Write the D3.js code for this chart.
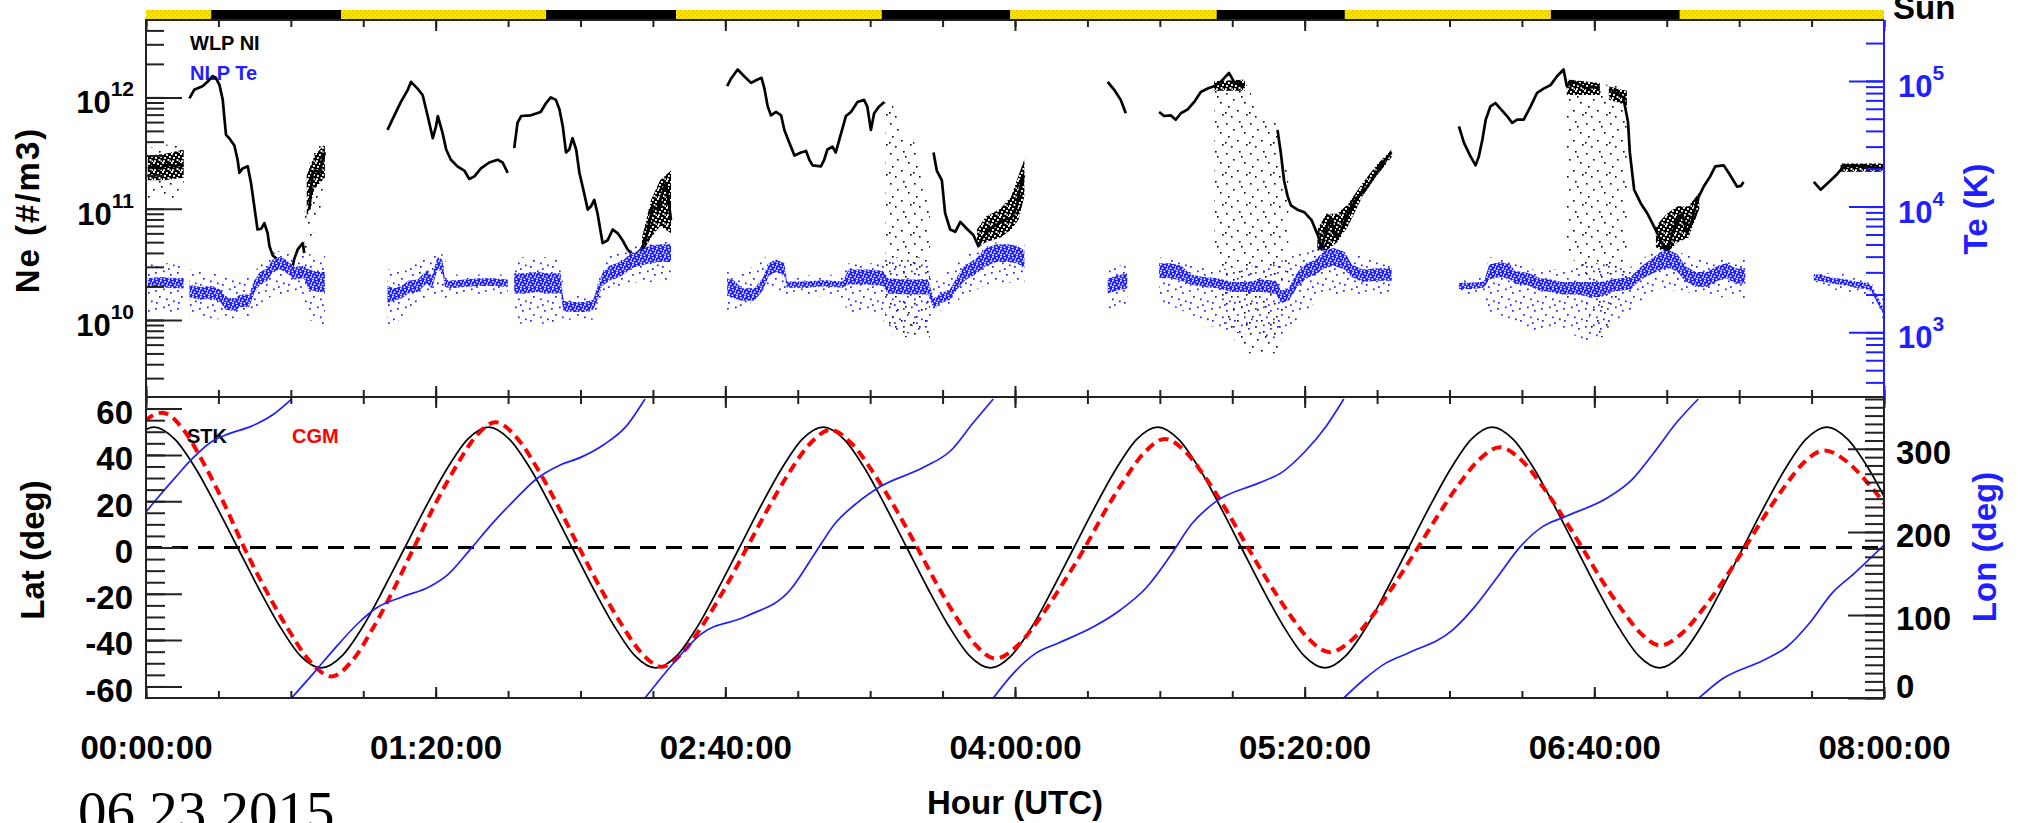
<!DOCTYPE html>
<html>
<head>
<meta charset="utf-8">
<script src="https://cdn.jsdelivr.net/npm/d3@7/dist/d3.min.js"></script>
<style>
  html, body { margin: 0; padding: 0; background: #fff; }
  svg { display: block; }
</style>
</head>
<body>
<svg id="chart" width="2018" height="823" font-family="Liberation Sans, Arial, Helvetica, sans-serif"></svg>
<script>
// ---------------------------------------------------------------------------
// Time axis: minutes after 00:00:00 UT
const hourTicks  = [0, 80, 160, 240, 320, 400, 480];
const hourLabels = ["00:00:00", "01:20:00", "02:40:00", "04:00:00", "05:20:00", "06:40:00", "08:00:00"];

// Sunlit (1) / eclipse (0) intervals along the orbit
const sunFrom = [0, 18, 53.9, 110.5, 146.4, 203.2, 238.7, 295.7, 331.1, 388, 423.6];
const sunTo   = [18, 53.9, 110.5, 146.4, 203.2, 238.7, 295.7, 331.1, 388, 423.6, 480];
const sunLit  = [1, 0, 1, 0, 1, 0, 1, 0, 1, 0, 1];

// WLP ion density trace [minute, #/m3]; null = no data
const neTrace = [
  [0.5,2.3e11],[2,2.4e11],[4,2.3e11],[6,2.5e11],[8,2.4e11],[9.5,2.5e11],[10.4,2.4e11],[11,null],
  [12,9.8e11],[13.3,1.17e12],[15.6,1.26e12],[17,1.38e12],[18.4,1.55e12],[19.3,1.5e12],[20.3,1.29e12],[21.2,9.5e11],
  [21.6,6.8e11],[22.1,4.6e11],[23,4.3e11],[24.4,3.7e11],[25.3,2.75e11],[25.8,2.1e11],[26.7,2.3e11],[28.1,2.4e11],
  [29,1.7e11],[29.9,1.05e11],[30.8,6.5e10],[31.8,6.6e10],[32.7,7.4e10],[33.6,6.0e10],[34.1,4.6e10],[35,3.8e10],
  [37.3,3.3e10],[39.1,3.0e10],[40.5,3.0e10],[40.9,3.5e10],[41.9,4.3e10],[43.3,4.9e10],[43.7,4.0e10],[44.2,null],
  [45.1,9.8e10],[46,2.1e11],[46.9,2.2e11],[47.9,2.1e11],[48.8,2.75e11],[49.4,3.2e11],[50,null],
  [66.7,5.1e11],[68.6,6.9e11],[70.4,9.1e11],[72.3,1.17e12],[73.2,1.38e12],[75,1.2e12],[76.4,1.05e12],[77.8,6.8e11],
  [79.2,4.3e11],[80.1,5.5e11],[80.6,6.8e11],[81.9,4.8e11],[82.9,3.4e11],[84.2,2.75e11],[86,2.4e11],[87.9,2.2e11],
  [89.3,1.85e11],[90.7,1.95e11],[92.5,2.3e11],[94.8,2.6e11],[97.1,2.75e11],[98.5,2.6e11],[99.9,2.1e11],[100.8,null],
  [101.7,3.5e11],[102.6,5.9e11],[103.6,6.8e11],[106.3,6.9e11],[109,7.4e11],[110.5,8.9e11],[111.8,1.0e12],[113.2,9.5e11],
  [114.2,7.8e11],[115.1,5.5e11],[116,3.2e11],[116.9,3.4e11],[117.8,4.3e11],[118.8,3.4e11],[119.7,2.1e11],[121,1.38e11],
  [122,9.8e10],[122.9,1.05e11],[123.8,1.2e11],[124.7,9.1e10],[126.1,4.9e10],[127.5,5.2e10],[128.9,6.5e10],[130.3,6.0e10],
  [131.6,5.2e10],[133,4.3e10],[134.8,3.7e10],[136.7,4.3e10],[138,5.2e10],[139,7.4e10],[139.9,1.05e11],[141.3,9.8e10],
  [142.6,1.38e11],[143.6,1.7e11],[144.5,1.05e11],[145,7.9e10],[146,null],
  [160.5,1.26e12],[161.6,1.48e12],[163.4,1.78e12],[165.2,1.55e12],[167.1,1.35e12],[168.9,1.45e12],[170,1.5e12],[170.8,1.2e12],
  [171.7,8.3e11],[172.6,6.9e11],[174,7.4e11],[175.4,6.9e11],[176.3,5.1e11],[177.7,3.9e11],[179.1,3.0e11],[180.9,3.2e11],
  [182.3,3.3e11],[183.2,2.75e11],[184.1,2.45e11],[186.4,2.4e11],[187.3,2.75e11],[188.2,3.4e11],[189.6,3.6e11],[190.5,3.2e11],
  [191.5,4.2e11],[193.3,6.8e11],[194.7,7.4e11],[196.5,9.1e11],[198.3,9.5e11],[199.2,8.3e11],[200.2,5.1e11],[201.1,7.2e11],
  [202.5,8.3e11],[203.9,9.1e11],[204.5,null],
  [217.5,3.2e11],[218.4,2.2e11],[219.8,1.8e11],[220.7,9.1e10],[222.1,6.5e10],[223.5,6.2e10],[224.9,7.6e10],[226.7,6.6e10],
  [228.5,5.8e10],[229.9,4.6e10],[231,5.5e10],[233,6.6e10],[235,7.2e10],[237,7.9e10],[239,8.3e10],[240.5,1.05e11],
  [241.5,1.6e11],[242.5,2.0e11],[243.5,null],
  [265.6,1.38e12],[267.4,1.17e12],[269.2,9.5e11],[270.6,7.2e11],[271.5,null],
  [279.8,7.4e11],[281.2,6.8e11],[283,6.9e11],[284.4,6.3e11],[285.8,7.2e11],[287.7,7.8e11],[289.5,9.1e11],[291.3,1.12e12],
  [293.2,1.2e12],[295,1.26e12],[296.8,1.38e12],[299.1,1.66e12],[300.5,1.38e12],[302.4,1.29e12],[303.5,1.3e12],[304.5,null],
  [312.5,5.1e11],[313.4,3.2e11],[314.3,1.8e11],[315.3,1.29e11],[316.2,1.07e11],[318,9.8e10],[319.9,9.3e10],[321.9,7.9e10],
  [323.8,5.6e10],[324.7,4.3e10],[326.1,6.9e10],[327.4,7.9e10],[328.4,5.6e10],[329.8,6.0e10],[331.2,7.9e10],[333,1.05e11],
  [334.8,1.29e11],[336.7,1.48e11],[338.5,1.8e11],[340.3,2.2e11],[342.2,2.75e11],[344,3.2e11],[345,null],
  [362.6,5.5e11],[364,3.9e11],[365.8,2.95e11],[367.2,2.45e11],[368.1,2.95e11],[369.1,4.2e11],[370,6.3e11],[371.3,8.3e11],
  [372.7,8.9e11],[374.1,7.9e11],[375.9,6.8e11],[377.3,5.9e11],[378.7,6.3e11],[380.5,6.3e11],[382.4,8.3e11],[384.2,1.1e12],
  [386,1.2e12],[387.9,1.29e12],[389.7,1.55e12],[391.5,1.78e12],[392.4,1.26e12],[394,1.4e12],[396,1.3e12],[398,1.2e12],
  [399.5,1.25e12],[401.5,1.2e12],[402.5,null],
  [404.2,1.2e12],[406,1.1e12],[408,1.0e12],[409.3,6.0e11],[409.8,3.2e11],[411,1.48e11],[412.8,1.12e11],[414.6,9.1e10],
  [416.5,6.9e10],[418.3,5.2e10],[420.1,4.0e10],[421.5,6.0e10],[422.9,7.9e10],[424.3,9.1e10],[425.6,6.0e10],[427,7.9e10],
  [428.4,1.2e11],[430.2,1.58e11],[432,1.95e11],[433.4,2.4e11],[435.7,2.45e11],[437.1,2.1e11],[439.4,1.58e11],[440.5,1.6e11],
  [441.2,1.74e11],[442,null],
  [460.6,1.74e11],[462.5,1.48e11],[464.8,1.74e11],[467.1,2.05e11],[468.9,2.4e11],[471.2,2.45e11],[474.9,2.4e11],[477,2.35e11],
  [479.5,2.3e11]
];

// Dense scatter about the density trace [minute, low, high]
const neNoise = [
  [0.5,1.8e11,3.0e11],[5,1.8e11,3.1e11],[10.4,1.9e11,3.4e11],[11,null,null],
  [44.4,8e10,2.0e11],[46.5,1.5e11,3.0e11],[49.4,1.9e11,3.8e11],[50,null,null],
  [137,4e10,5.5e10],[139.5,5.5e10,1.2e11],[142,7e10,1.8e11],[145,6e10,2.2e11],[146,null,null],
  [229.5,4.5e10,6.5e10],[232,5e10,8.5e10],[236,5.5e10,1.0e11],[239,6.5e10,1.3e11],[241,8e10,2.0e11],[242.6,1.3e11,2.8e11],[243.5,null,null],
  [295,1.15e12,1.4e12],[303.5,1.15e12,1.45e12],[304.5,null,null],
  [323.5,4.2e10,6.5e10],[326,4.2e10,9e10],[329,5e10,9e10],[332,7e10,1.1e11],[336,1.3e11,1.7e11],[340,2.0e11,2.5e11],[344,2.9e11,3.4e11],[345,null,null],
  [392.4,1.05e12,1.45e12],[397,1.05e12,1.4e12],[401.5,1.05e12,1.35e12],[402.5,null,null],
  [404,9.5e11,1.25e12],[409,8.5e11,1.15e12],[410,null,null],
  [417,4.5e10,7e10],[420,4e10,9e10],[423,5e10,1.05e11],[426,5.5e10,1.05e11],[429,1.0e11,1.4e11],[430,null,null],
  [468,2.15e11,2.55e11],[480,2.15e11,2.55e11]
];

// Sparse outlying density samples [minute, low, high]
const neSpray = [
  [0.5,1.2e11,3.5e11],[10.4,1.2e11,4.0e11],[11,null,null],
  [43.8,3.5e10,1.0e11],[45,5e10,2.5e11],[47,7e10,4.0e11],[49.4,1e11,4.5e11],[50,null,null],
  [204.2,1.0e10,9.5e11],[207,7e9,8e11],[210,7e9,5e11],[213,7e9,3.6e11],[216.5,7e9,1.2e11],[217.5,null,null],
  [295,5e10,1.3e12],[298.5,8e9,1.5e12],[304,5e9,1.3e12],[308,5e9,7e11],[313,5e9,6e11],[315.5,2e10,2e11],[316.5,null,null],
  [392.4,4e10,1.5e12],[396,3e10,1.5e12],[399.5,7e9,1.4e12],[403,7e9,1.3e12],[405,1.2e10,1.3e12],[409.3,2.5e10,1.2e12]
];

// NLP electron temperature, main band [minute, low K, high K]
const teCore = [
  [0.5,2240,2690],[4,2290,2750],[7.5,2240,2700],[10.4,2240,2690],[11,null,null],
  [12,1900,2400],[15,1820,2290],[18,1860,2340],[20.5,1740,2190],[22,1510,1900],[24.5,1480,1860],[26,1590,2000],[28.5,1590,2000],
  [29.9,2040,2570],[31.5,2400,3020],[33.5,2570,3240],[35,3020,3800],[37,3160,3980],[39,2950,3720],[41,2630,3310],[43.5,2690,3390],
  [45,2190,3160],[47.5,2090,3020],[49.4,2090,3020],[50,null,null],
  [66.7,1700,2340],[68.5,1780,2240],[70.5,1860,2340],[72.5,2040,2570],[75,2090,2630],[77.5,2450,3090],[79,2240,2820],[80.5,3160,3980],
  [81.8,3020,3800],[82.6,2290,2630],[84,2240,2570],[88,2290,2630],[92,2340,2690],[96,2340,2690],[99.9,2290,2630],[100.8,null,null],
  [101.7,2040,2950],[105,2040,2950],[108,2090,3020],[111,2040,2950],[114.5,2040,2950],[115.3,1480,1780],[118,1450,1740],[121,1450,1740],
  [123.5,1510,1820],[124.7,1820,2290],[126,2340,2950],[128,2570,3390],[130,2690,3550],[132,2880,3800],[134,3240,4270],[136.5,3390,4470],
  [139,3550,4900],[142,3630,5010],[145,3630,5010],[146,null,null],
  [160.5,1950,2690],[162.5,1860,2570],[164.5,1780,2240],[168,1780,2240],[170.3,2140,2690],[172,2820,3550],[174,3020,3800],[176.3,2820,3550],
  [177,2260,2540],[182,2260,2540],[187,2320,2600],[192.5,2260,2540],[194,2400,3160],[199,2400,3160],[203.5,2340,3090],[205,2040,2690],
  [210,2000,2630],[216,2000,2630],[217.5,1550,1860],[219.5,1700,2040],[222,1820,2190],[224,2190,2750],[226,2570,3390],[229,2880,3800],
  [232,3390,4680],[235,3630,5010],[238,3630,5010],[240.5,3550,4900],[242.6,3240,4470],[243.5,null,null],
  [265.6,2040,2690],[268,2140,2820],[271,2240,2950],[272,null,null],
  [279.8,2690,3550],[283,2690,3550],[286,2570,3390],[288.5,2400,2880],[292,2290,2750],[296,2240,2690],[300,2090,2510],[304,2090,2510],
  [308,2090,2630],[312,2040,2570],[313.5,1700,2140],[315.5,1780,2240],[318,2290,3020],[320.5,2690,3550],[323,2880,3800],[325.5,3240,4470],
  [328,3390,4680],[331,3160,4370],[333,2750,3470],[336,2510,3160],[340,2570,3240],[344,2570,3240],[345,null,null],
  [362.6,2210,2480],[366,2210,2480],[369.5,2260,2540],[371,2630,3470],[374,2750,3630],[376.8,2630,3470],[378,2450,3090],[382,2340,2950],
  [385,2140,2690],[388,2090,2630],[391,2000,2510],[395,2000,2510],[399,1910,2510],[402,1910,2510],[404.5,2090,2630],[407,2140,2690],
  [410,2190,2750],[412.8,2630,3310],[415.5,2880,3800],[418.5,3160,4370],[421,3240,4470],[423,3020,4170],[425,2570,3390],[428,2290,3020],
  [431,2290,3020],[434,2570,3390],[436.5,2690,3550],[439,2450,3240],[441.7,2450,3240],[443,null,null],
  [460.6,2600,2910],[463,2540,2850],[466,2430,2720],[469,2370,2660],[472,2260,2540],[475,2210,2480],[476.5,2110,2370],[478,1750,1970],
  [479.3,1490,1680],[480,1360,1530]
];

// Sparse outlying temperature samples [minute, low K, high K]
const teSpray = [
  [0.5,1410,3550],[10.4,1410,3550],[11,null,null],
  [12,1320,3160],[22,1260,2820],[29,1320,2820],[35,2000,4470],[43,2000,4170],[45,1260,4170],[49.4,1120,4170],[50,null,null],
  [66.7,1050,3160],[72,1410,3160],[78,2000,4170],[82,1780,4170],[84,2000,2880],[99.9,2000,2880],[100.8,null,null],
  [101.7,1170,3980],[114.5,1170,3980],[115.5,1260,2000],[124,1260,2000],[126,2000,3800],[136,2510,5010],[145,2510,5620],[146,null,null],
  [160.5,1410,3160],[164,1480,2820],[172,2240,4170],[177,2000,2820],[192,1900,2880],[194,1410,3550],[203,1410,3550],[205,955,3980],
  [216,1000,3980],[218,1410,2510],[224,1780,3550],[232,2400,5250],[242.6,2510,5010],[243.5,null,null],
  [265.6,1510,3160],[271,1580,3550],[272,null,null],
  [279.8,1780,3980],[288,1410,3550],[296,1050,3160],[312,870,3550],[316,1120,3980],[325,2000,5010],[333,2000,4170],[344,2000,3550],[345,null,null],
  [362.6,2000,2630],[369.5,2000,2820],[371,1410,3980],[377,1260,3980],[383,1000,3160],[390,1120,3160],[398,830,3550],[403,1000,3550],
  [409,1410,3160],[418,2240,4790],[430,2000,3800],[441.7,1780,3800],[443,null,null],
  [460.6,2400,3020],[475,1900,2820],[480,1260,1780]
];

// Geographic (STK) latitude, degrees
const stkMin = [-3.6,2.2,8.0,13.8,19.5,25.3,31.1,36.9,42.6,48.4,54.2,60.0,65.7,71.5,77.3,83.1,
  88.8,94.6,100.4,106.2,111.9,117.7,123.5,129.3,135.0,140.8,146.6,152.4,158.1,163.9,169.7,175.5,
  181.2,187.0,192.8,198.6,204.3,210.1,215.9,221.7,227.4,233.2,239.0,244.8,250.5,256.3,262.1,267.9,
  273.6,279.4,285.2,291.0,296.7,302.5,308.3,314.1,319.8,325.6,331.4,337.2,342.9,348.7,354.5,360.3,
  366.0,371.8,377.6,383.4,389.1,394.9,400.7,406.5,412.2,418.0,423.8,429.6,435.3,441.1,446.9,452.7,
  458.4,464.2,470.0,475.8,481.5];
const stkLat = [46.7,52,46.7,33.9,17.6,0,-17.6,-33.9,-46.7,-52,-46.7,-33.9,-17.6,0,17.6,33.9,
  46.7,52,46.7,33.9,17.6,0,-17.6,-33.9,-46.7,-52,-46.7,-33.9,-17.6,0,17.6,33.9,
  46.7,52,46.7,33.9,17.6,0,-17.6,-33.9,-46.7,-52,-46.7,-33.9,-17.6,0,17.6,33.9,
  46.7,52,46.7,33.9,17.6,0,-17.6,-33.9,-46.7,-52,-46.7,-33.9,-17.6,0,17.6,33.9,
  46.7,52,46.7,33.9,17.6,0,-17.6,-33.9,-46.7,-52,-46.7,-33.9,-17.6,0,17.6,33.9,
  46.7,52,46.7,33.9,17.6];

// Corrected geomagnetic (CGM) latitude, degrees
const cgmMin = [-6.9,-1.2,4.5,10.2,15.8,21.5,27.1,33.1,39.2,45.2,51.2,56.9,62.6,68.3,74,79.6,85.3,90.9,96.5,
  102.3,108.1,113.8,119.6,125.3,131,136.7,142.4,148.3,154.2,160.1,166,171.8,177.5,183.3,189,195,201,207,213,
  218.4,223.8,229.2,234.6,240.8,247,253.1,259.3,264.8,270.3,275.9,281.4,287.1,292.9,298.6,304.3,310,315.7,
  321.3,327,333.1,339.2,345.2,351.3,357,362.6,368.3,373.9,379.6,385.3,390.9,396.6,402,407.5,412.9,418.3,
  424.1,430,435.8,441.6,447.1,452.6,458,463.5,469.9,476.3,482.6];
const cgmLat = [36.7,53,58.2,51.2,36.7,19.2,0,-18.4,-35.1,-49.0,-55.7,-49.0,-35.1,-18.4,0,17.9,34.1,47.6,54.1,
  47.6,34.1,17.9,0,-17.0,-32.4,-45.3,-51.5,-45.3,-32.4,-17.0,0,16.8,32.0,44.7,50.8,44.7,32.0,16.8,0,
  -15.8,-30.2,-42.2,-48,-42.2,-30.2,-15.8,0,15.5,29.5,41.3,46.9,41.3,29.5,15.5,0,-14.9,-28.5,
  -39.8,-45.2,-39.8,-28.5,-14.9,0,14.3,27.3,38.1,43.3,38.1,27.3,14.3,0,-14.0,-26.6,-37.2,-42.3,
  -37.2,-26.6,-14.0,0,13.8,26.4,36.9,41.9,36.9,26.4,13.8];

// Geographic longitude, degrees (null = wrap from 360 to 0)
const lonMin = [0,4,8,12.3,17.9,22.8,29,35,40.2,40.2,
  40.2,46.3,51.8,58.6,63.5,70.9,78.3,83.2,89.4,95.6,101.7,107.9,114.1,120.2,126.4,132.6,137.8,137.8,
  137.8,144.9,153.3,165.6,177.9,185.3,190.3,196.4,202.6,214.9,222.3,228.4,234,234,
  234,239.6,245.8,251.9,261.8,269.1,276.5,282.7,288.9,295,307.4,313.5,319.7,325.9,330.8,330.8,
  330.8,336.3,342.4,348.5,360.9,367,373.3,379.5,385.6,391.7,404,410.2,416.4,422.6,428.7,428.8,
  428.9,435,447,453.3,459.4,465.6,471.8,480];
const lonDeg = [224,245,265,286,308,318,327,341,360,null,
  0,30,58,90,108,122,134,148,178,210,238,264,280,290,305,327,360,null,
  0,38,77,98,130,178,210,235,254,278,298,331,360,null,
  0,30,54,66,86,106,134,170,210,235,259,271,295,327,360,null,
  0,22,42,54,82,110,146,182,206,218,242,262,295,331,360,null,
  0,22,46,62,90,126,150,184];

// ---------------------------------------------------------------------------
const W = 2018, H = 823;
const X0 = 146, X1 = 1884, Y0 = 20, YM = 397, Y1 = 698;
const BLUE = "#1f1fff", RED = "#ff0000";
const SANS = "Liberation Sans, Arial, Helvetica, sans-serif";

const x    = d3.scaleLinear().domain([0, 480]).range([X0, X1]);
const yNe  = d3.scaleLog().domain([2.03e9, 4.96e12]).range([YM, Y0]);
const yTe  = d3.scaleLog().domain([306, 3.05e5]).range([YM, Y0]);
const yLat = d3.scaleLinear().domain([-65, 65]).range([Y1, YM]);
const yLon = d3.scaleLinear().domain([0, 362.4]).range([Y1, YM]);

const svg = d3.select("#chart");
svg.append("rect").attr("width", W).attr("height", H).attr("fill", "#fff");
const defs = svg.append("defs");

defs.append("clipPath").attr("id", "clipTop").append("rect")
  .attr("x", X0).attr("y", Y0).attr("width", X1 - X0).attr("height", YM - Y0);
defs.append("clipPath").attr("id", "clipBot").append("rect")
  .attr("x", X0).attr("y", YM).attr("width", X1 - X0).attr("height", Y1 - YM);

// small tiled textures that give the scatter bands their speckled look
function speckle(id, w, h, bg, fg, cells, s) {
  const p = defs.append("pattern").attr("id", id)
    .attr("patternUnits", "userSpaceOnUse").attr("width", w).attr("height", h);
  if (bg) p.append("rect").attr("width", w).attr("height", h).attr("fill", bg);
  p.selectAll("rect.c").data(cells).join("rect").attr("class", "c")
    .attr("x", d => d[0]).attr("y", d => d[1]).attr("width", s).attr("height", s).attr("fill", fg);
}
speckle("teCoreFill", 8, 8, BLUE, "#fff", [[0,0],[4.2,1],[1.8,3.4],[6,4.4],[0.4,5.8],[3.6,6.4],[7,2.2]], 1.6);
speckle("teSprayFill", 22, 18, null, BLUE,
  [[1,2],[9,0.5],[16,4],[5,8],[12,10.5],[19,12.5],[2,14],[14,16.2]], 1.7);
speckle("neNoiseFill", 9, 9, "#000", "#fff",
  [[0,0],[4,1],[7,3],[2,4],[5.5,6],[1,7.2],[7.5,7.5]], 1.9);
speckle("neSprayFill", 24, 30, null, "#000",
  [[2,3],[15,1],[9,9],[20,12],[4,16],[13,20],[22,24],[7,26],[17,6],[1,22]], 1.6);

const hatch = defs.append("pattern").attr("id", "sunHatch")
  .attr("patternUnits", "userSpaceOnUse").attr("width", 4).attr("height", 4);
hatch.append("rect").attr("width", 4).attr("height", 4).attr("fill", "#ffe400");
hatch.append("path").attr("d", "M0,4 L4,0 M-1,1 L1,-1 M3,5 L5,3")
  .attr("stroke", "#cfae00").attr("stroke-width", 0.7);

// ---- sunlight bar ---------------------------------------------------------
svg.append("g").selectAll("rect").data(d3.range(sunFrom.length)).join("rect")
  .attr("x", i => x(sunFrom[i])).attr("width", i => x(sunTo[i]) - x(sunFrom[i]))
  .attr("y", 10).attr("height", 10)
  .attr("fill", i => sunLit[i] ? "url(#sunHatch)" : "#000");
svg.append("text").attr("x", 1893).attr("y", 19)
  .attr("font-size", 33).attr("font-weight", "bold").attr("fill", "#000").text("Sun");

// ---- legends --------------------------------------------------------------
function label(txt, px, py, color, size) {
  svg.append("text").attr("x", px).attr("y", py).attr("fill", color)
    .attr("font-size", size).attr("font-weight", "bold").text(txt);
}
label("WLP NI", 190, 50, "#000", 20);
label("NLP Te", 190, 80, BLUE, 20);
label("STK", 187, 443, "#000", 20);
label("CGM", 292, 443, RED, 20);

// ---- top panel: density and temperature ------------------------------------
const gTop = svg.append("g").attr("clip-path", "url(#clipTop)");

const bandNe = d3.area().defined(d => d[1] != null)
  .x(d => x(d[0])).y0(d => yNe(d[1])).y1(d => yNe(d[2]));
const bandTe = d3.area().defined(d => d[1] != null)
  .x(d => x(d[0])).y0(d => yTe(d[1])).y1(d => yTe(d[2]));
const lineNe = d3.line().defined(d => d[1] != null)
  .x(d => x(d[0])).y(d => yNe(d[1]));

gTop.append("path").datum(neSpray).attr("d", bandNe).attr("fill", "url(#neSprayFill)");
gTop.append("path").datum(neNoise).attr("d", bandNe).attr("fill", "url(#neNoiseFill)");
gTop.append("path").datum(neTrace).attr("d", lineNe)
  .attr("fill", "none").attr("stroke", "#000").attr("stroke-width", 2.7).attr("stroke-linejoin", "round");
gTop.append("path").datum(teSpray).attr("d", bandTe).attr("fill", "url(#teSprayFill)");
gTop.append("path").datum(teCore).attr("d", bandTe).attr("fill", "url(#teCoreFill)");

// ---- bottom panel: orbit -------------------------------------------------
const gBot = svg.append("g").attr("clip-path", "url(#clipBot)");
gBot.append("line").attr("x1", X0).attr("x2", X1).attr("y1", yLat(0)).attr("y2", yLat(0))
  .attr("stroke", "#000").attr("stroke-width", 3).attr("stroke-dasharray", "16 10");

const latLine = d3.line().curve(d3.curveMonotoneX);
gBot.append("path")
  .attr("d", latLine(stkMin.map((t, i) => [x(t), yLat(stkLat[i])])))
  .attr("fill", "none").attr("stroke", "#000").attr("stroke-width", 1.7);
gBot.append("path")
  .attr("d", latLine(cgmMin.map((t, i) => [x(t), yLat(cgmLat[i])])))
  .attr("fill", "none").attr("stroke", RED).attr("stroke-width", 4).attr("stroke-dasharray", "10 6");
const lonLine = d3.line().curve(d3.curveMonotoneX)
  .defined((d, i) => lonDeg[i] != null)
  .x((d, i) => x(lonMin[i])).y((d, i) => yLon(lonDeg[i]));
gBot.append("path").attr("d", lonLine(lonMin))
  .attr("fill", "none").attr("stroke", BLUE).attr("stroke-width", 1.7);

// ---- axes -------------------------------------------------------------------
function tickSet(axis, at, values, size, color) {
  const g = svg.append("g").attr("transform", at)
    .call(axis.tickValues(values).tickSize(size).tickFormat(""));
  g.select(".domain").remove();
  g.selectAll("line").attr("stroke", color).attr("stroke-width", 2);
  return g;
}
const minorMinutes = d3.range(0, 481, 20);
[[d3.axisTop, Y0], [d3.axisBottom, YM], [d3.axisTop, YM], [d3.axisBottom, Y1]].forEach(([fn, yy]) => {
  tickSet(fn(x), `translate(0,${yy})`, minorMinutes, -7, "#222");
  tickSet(fn(x), `translate(0,${yy})`, hourTicks, -11, "#222");
});

// hour labels under the lower panel
const gx = svg.append("g").attr("transform", `translate(0,${Y1})`)
  .call(d3.axisBottom(x).tickValues(hourTicks).tickSize(0).tickPadding(38)
    .tickFormat((d, i) => hourLabels[i]));
gx.select(".domain").remove();
gx.attr("font-family", SANS).attr("font-size", 33);
gx.selectAll("text").attr("font-weight", "bold").attr("fill", "#000");

// density (left, log)
tickSet(d3.axisLeft(yNe), `translate(${X0},0)`, yNe.ticks(), -18, "#222");
const neMajor = [1e10, 1e11, 1e12];
tickSet(d3.axisLeft(yNe), `translate(${X0},0)`, neMajor, -36, "#222");
// temperature (right, log)
tickSet(d3.axisRight(yTe), `translate(${X1},0)`, yTe.ticks().filter(v => yTe(v) > Y0 + 3), -18, BLUE);
const teMajor = [1e3, 1e4, 1e5];
tickSet(d3.axisRight(yTe), `translate(${X1},0)`, teMajor, -35, BLUE);

function powerLabels(scale, values, px, anchor, color) {
  values.forEach(v => {
    const t = svg.append("text").attr("x", px).attr("y", scale(v) + 16)
      .attr("text-anchor", anchor).attr("fill", color)
      .attr("font-size", 31).attr("font-weight", "bold");
    t.append("tspan").text("10");
    t.append("tspan").attr("dy", -17).attr("font-size", 21).text(Math.round(Math.log10(v)));
  });
}
powerLabels(yNe, neMajor, 134, "end", "#000");
powerLabels(yTe, teMajor, 1898, "start", BLUE);

// latitude (left)
tickSet(d3.axisLeft(yLat), `translate(${X0},0)`, d3.range(-60, 61, 5), -19, "#222");
const latMajor = [-60, -40, -20, 0, 20, 40, 60];
const gLat = svg.append("g").attr("transform", `translate(${X0},0)`)
  .call(d3.axisLeft(yLat).tickValues(latMajor).tickSize(-36).tickPadding(13).tickFormat(d => String(d)));
gLat.select(".domain").remove();
gLat.attr("font-family", SANS).attr("font-size", 33);
gLat.selectAll("line").attr("stroke", "#222").attr("stroke-width", 2);
gLat.selectAll("text").attr("font-weight", "bold").attr("dy", "0.45em").attr("fill", "#000");

// longitude (right)
tickSet(d3.axisRight(yLon), `translate(${X1},0)`, d3.range(0, 361, 10), -19, "#222");
const lonMajor = [0, 100, 200, 300];
const gLon = svg.append("g").attr("transform", `translate(${X1},0)`)
  .call(d3.axisRight(yLon).tickValues(lonMajor).tickSize(-36).tickPadding(12).tickFormat(d => String(d)));
gLon.select(".domain").remove();
gLon.attr("font-family", SANS).attr("font-size", 33);
gLon.selectAll("line").attr("stroke", "#222").attr("stroke-width", 2);
gLon.selectAll("text").attr("font-weight", "bold")
  .attr("dy", d => d === 0 ? "-0.02em" : "0.45em").attr("fill", "#000");

// frames
const frame = svg.append("g").attr("fill", "none").attr("stroke-width", 2);
frame.append("path").attr("d", `M${X1},${Y0} H${X0} V${Y1} H${X1} V${YM}`).attr("stroke", "#222");
frame.append("line").attr("x1", X0).attr("x2", X1).attr("y1", YM).attr("y2", YM).attr("stroke", "#222");
frame.append("line").attr("x1", X1).attr("x2", X1).attr("y1", Y0).attr("y2", YM).attr("stroke", BLUE);

// ---- axis titles ---------------------------------------------------------
function vTitle(txt, px, py, color, spacing) {
  svg.append("text").attr("transform", `translate(${px},${py}) rotate(-90)`)
    .attr("text-anchor", "middle").attr("fill", color)
    .attr("font-size", 33).attr("font-weight", "bold")
    .attr("letter-spacing", spacing || 0).text(txt);
}
vTitle("Ne (#/m3)", 39, 210, "#000", 2);
vTitle("Lat (deg)", 44, 550, "#000");
vTitle("Te (K)", 1987, 209, BLUE);
vTitle("Lon (deg)", 1996, 547, BLUE);

svg.append("text").attr("x", (X0 + X1) / 2).attr("y", 814).attr("text-anchor", "middle")
  .attr("font-size", 33).attr("font-weight", "bold").attr("fill", "#000").text("Hour (UTC)");

svg.append("text").attr("x", 78).attr("y", 831)
  .attr("font-family", "Liberation Serif, Times New Roman, serif")
  .attr("font-size", 57).attr("fill", "#000").text("06.23.2015");
</script>
</body>
</html>
